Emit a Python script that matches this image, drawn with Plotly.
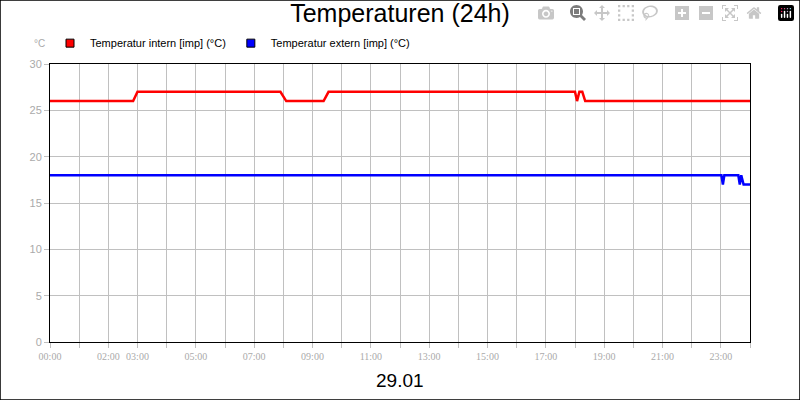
import plotly.graph_objects as go

# hours since 00:00
intern_x = [0, 2.85, 3.0, 7.9, 8.1, 9.38, 9.55, 18.0, 18.07, 18.15, 18.25, 18.35, 24]
intern_y = [26, 26, 27, 27, 26, 26, 27, 27, 26, 27, 27, 26, 26]
extern_x = [0, 23.02, 23.07, 23.12, 23.6, 23.65, 23.7, 23.78, 24]
extern_y = [18, 18, 17, 18, 18, 17, 18, 17, 17]

tick_vals = [0, 2, 3, 5, 7, 9, 11, 13, 15, 17, 19, 21, 23]
tick_text = ["00:00", "02:00", "03:00", "05:00", "07:00", "09:00", "11:00",
             "13:00", "15:00", "17:00", "19:00", "21:00", "23:00"]

fig = go.Figure()
fig.add_trace(go.Scatter(x=intern_x, y=intern_y, mode="lines",
                         line=dict(color="#ff0000", width=2.5), showlegend=False))
fig.add_trace(go.Scatter(x=extern_x, y=extern_y, mode="lines",
                         line=dict(color="#0000ff", width=2.5), showlegend=False))
# legend entries with square markers
for name, col in [("Temperatur intern [imp] (°C)", "#ff0000"),
                  ("Temperatur extern [imp] (°C)", "#0000ff")]:
    fig.add_trace(go.Scatter(x=[None], y=[None], mode="markers", name=name,
                             marker=dict(symbol="square", size=8, color=col,
                                         line=dict(color="black", width=1))))

fig.update_layout(
    width=800, height=400,
    margin=dict(l=50, r=50, t=64, b=58),
    paper_bgcolor="white", plot_bgcolor="white",
    font=dict(family="Liberation Sans", color="black"),
    title=dict(text="Temperaturen (24h)", x=0.5, xanchor="center", y=0.99, yanchor="top",
               font=dict(size=25, family="Liberation Sans")),
    legend=dict(orientation="h", x=0.0, xanchor="left", y=1.075, yanchor="middle",
                font=dict(size=11), tracegroupgap=0, bgcolor="rgba(0,0,0,0)"),
    shapes=[dict(type="rect", xref="paper", yref="paper", x0=-0.0714, x1=1.0714,
                 y0=-0.2086, y1=1.2302, line=dict(color="black", width=1.5))],
    annotations=[
        dict(text="°C", xref="paper", yref="paper", x=-0.005, y=1.045, xanchor="right",
             yanchor="bottom", showarrow=False, font=dict(size=10, color="#aaaaaa")),
        dict(text="29.01", xref="paper", yref="paper", x=0.5, y=-0.14, xanchor="center",
             yanchor="middle", showarrow=False, font=dict(size=19)),
    ],
)
fig.update_xaxes(range=[0, 24], tickvals=tick_vals, ticktext=tick_text, tickangle=0,
                 showgrid=True, gridcolor="#c0c0c0",
                 minor=dict(dtick=1, showgrid=True, gridcolor="#c0c0c0", ticks="outside",
                            ticklen=5, tickcolor="#c0c0c0"),
                 ticks="outside", ticklen=5, tickcolor="#c0c0c0",
                 tickfont=dict(size=10, color="#aaaaaa", family="Liberation Sans Narrow"),
                 showline=True, linecolor="black", linewidth=1, mirror=True, zeroline=False)
fig.update_yaxes(range=[0, 30], dtick=5, showgrid=True, gridcolor="#c0c0c0",
                 ticks="outside", ticklen=5, tickcolor="#c0c0c0",
                 tickfont=dict(size=11, color="#aaaaaa"),
                 showline=True, linecolor="black", linewidth=1, mirror=True, zeroline=False)

fig.write_html("out.html", post_script="document.body.style.margin='0';")
